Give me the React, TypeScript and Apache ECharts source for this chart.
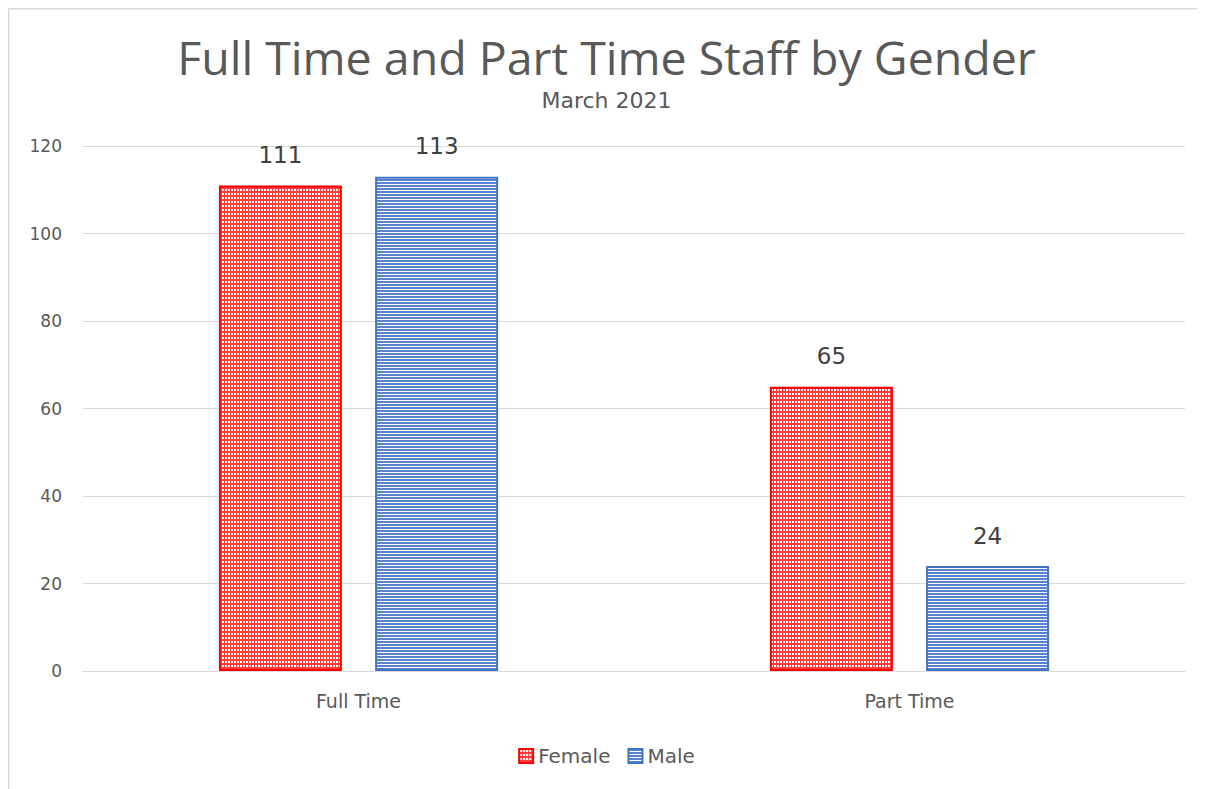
import React, { useEffect, useRef } from "react";
import * as echarts from "echarts";

const categories = ["Full Time", "Part Time"];
const femaleValues = [111, 65];
const maleValues = [113, 24];
const seriesNames = ["Female", "Male"];
const titleText = "Full Time and Part Time Staff by Gender";
const subtitleText = "March 2021";

function makeDots(): HTMLCanvasElement {
  const c = document.createElement("canvas");
  c.width = 3;
  c.height = 4;
  const ctx = c.getContext("2d")!;
  ctx.fillStyle = "#ff3b3b";
  ctx.fillRect(0, 0, 3, 4);
  ctx.fillStyle = "#ffffff";
  ctx.fillRect(1, 1, 2, 2);
  return c;
}

function makeStripes(): HTMLCanvasElement {
  const c = document.createElement("canvas");
  c.width = 4;
  c.height = 3;
  const ctx = c.getContext("2d")!;
  ctx.fillStyle = "#ffffff";
  ctx.fillRect(0, 0, 4, 3);
  ctx.fillStyle = "#5b82cf";
  ctx.fillRect(0, 0, 4, 2);
  return c;
}

const smallFont = "DejaVu Sans";

export default function App() {
  const ref = useRef<HTMLDivElement>(null);
  useEffect(() => {
    if (!ref.current) return;
    const chart = echarts.init(ref.current, undefined, { renderer: "svg" });
    const dots = makeDots();
    const stripes = makeStripes();
    const labelStyle = {
      show: true,
      position: "top",
      distance: 19,
      fontFamily: smallFont,
      fontSize: 23,
      color: "#404040",
    };
    chart.setOption({
      animation: false,
      backgroundColor: "#ffffff",
      title: [
        {
          text: titleText,
          left: "center",
          top: 20,
          textStyle: {
            fontFamily: "Open Sans",
            fontSize: 46.5,
            fontWeight: "normal",
            color: "#595959",
          },
        },
        {
          text: subtitleText,
          left: "center",
          top: 76,
          textStyle: {
            fontFamily: smallFont,
            fontSize: 22,
            fontWeight: "normal",
            color: "#595959",
          },
        },
      ],
      graphic: [
        {
          type: "line",
          shape: { x1: 0.5, y1: 0.5, x2: 1197, y2: 0.5 },
          style: { stroke: "#d9d9d9", lineWidth: 2 },
        },
        {
          type: "line",
          shape: { x1: 0.5, y1: 0.5, x2: 0.5, y2: 781 },
          style: { stroke: "#d9d9d9", lineWidth: 2 },
        },
      ],
      legend: {
        bottom: 18,
        left: "center",
        icon: "rect",
        itemWidth: 14,
        itemHeight: 14,
        itemGap: 17,
        textStyle: { fontFamily: smallFont, fontSize: 20, color: "#595959" },
        data: seriesNames,
      },
      grid: { left: 75, right: 20, top: 138, bottom: 118 },
      xAxis: {
        type: "category",
        data: categories,
        axisLine: { lineStyle: { color: "#d9d9d9", width: 1 } },
        axisTick: { show: false },
        axisLabel: {
          margin: 20,
          fontFamily: smallFont,
          fontSize: 19,
          color: "#595959",
        },
      },
      yAxis: {
        type: "value",
        min: 0,
        max: 120,
        interval: 20,
        axisLine: { show: false },
        axisTick: { show: false },
        splitLine: { lineStyle: { color: "#d9d9d9", width: 1 } },
        axisLabel: {
          margin: 21,
          fontFamily: smallFont,
          fontSize: 17,
          color: "#595959",
        },
      },
      series: [
        {
          name: seriesNames[0],
          type: "bar",
          data: femaleValues,
          barWidth: 123,
          barGap: "27%",
          itemStyle: {
            color: { image: dots, repeat: "repeat" },
            borderColor: "#ff0000",
            borderWidth: 2,
          },
          label: labelStyle,
        },
        {
          name: seriesNames[1],
          type: "bar",
          data: maleValues,
          barWidth: 123,
          itemStyle: {
            color: { image: stripes, repeat: "repeat" },
            borderColor: "#4472c4",
            borderWidth: 2,
          },
          label: labelStyle,
        },
      ],
    });
    return () => chart.dispose();
  }, []);
  return <div ref={ref} style={{ width: 1197, height: 781 }} />;
}
